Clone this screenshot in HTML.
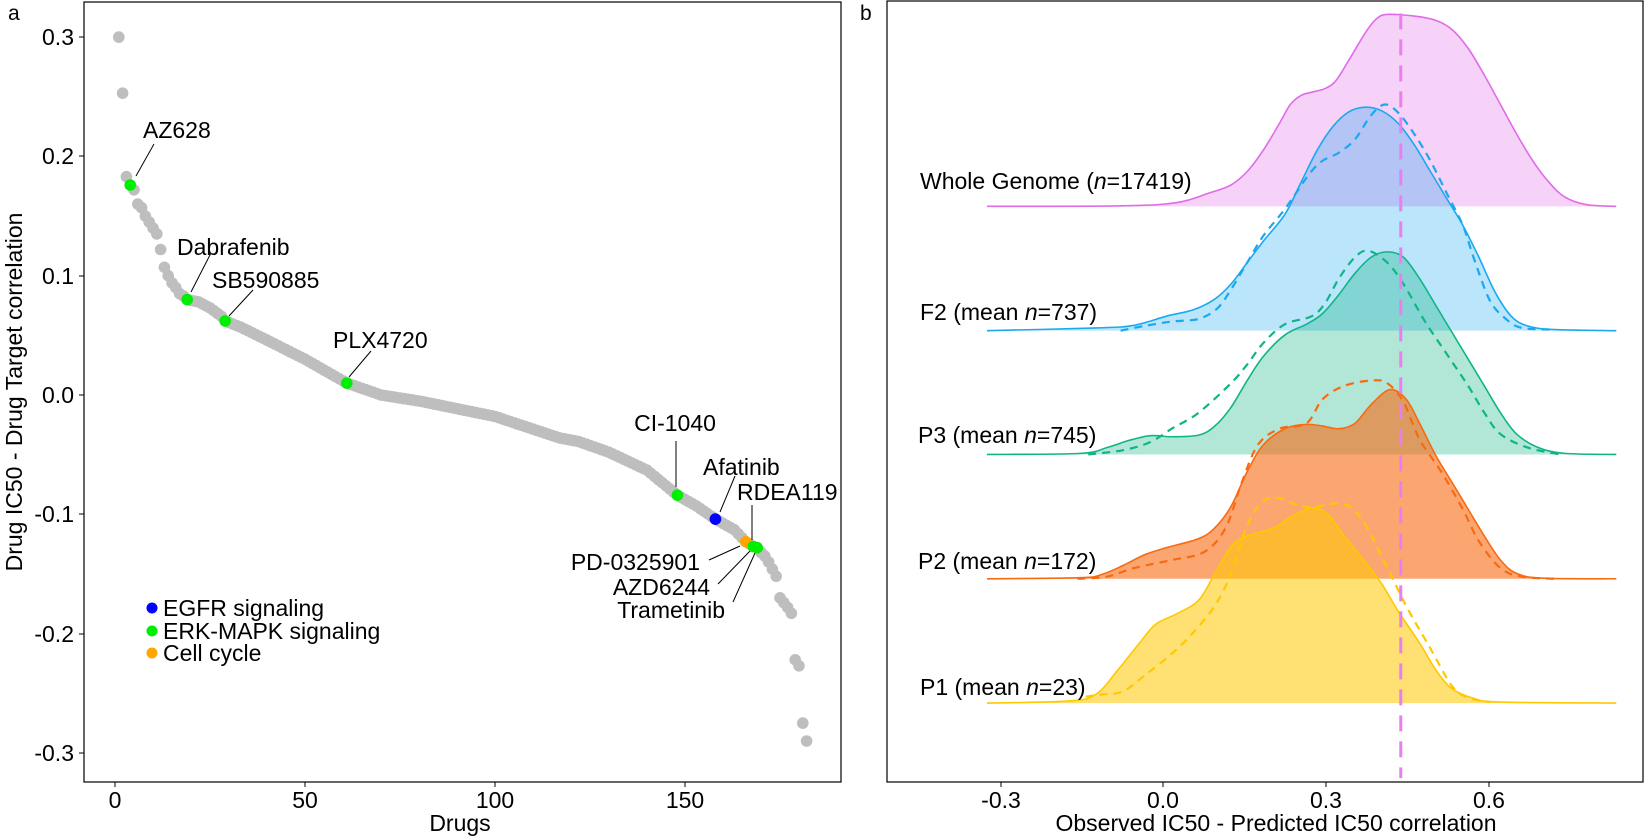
<!DOCTYPE html>
<html><head><meta charset="utf-8"><style>
html,body{margin:0;padding:0;background:#fff;}
svg{display:block;font-family:"Liberation Sans",Arial,sans-serif;}
</style></head><body>
<svg id="s" width="1645" height="836" viewBox="0 0 1645 836" xmlns="http://www.w3.org/2000/svg">
<rect width="1645" height="836" fill="#fff"/>
<!-- Panel a -->
<text x="8" y="20" font-size="21">a</text>
<g id="pts"></g>
<rect x="84" y="2" width="757" height="780" fill="none" stroke="#000" stroke-width="1.2"/>
<g font-size="23" text-anchor="end" fill="#000">
<text x="74" y="45">0.3</text><text x="74" y="164">0.2</text><text x="74" y="284">0.1</text>
<text x="74" y="403">0.0</text><text x="74" y="522">-0.1</text><text x="74" y="642">-0.2</text><text x="74" y="761">-0.3</text>
</g>
<g stroke="#000" stroke-width="1">
<line x1="79" y1="37" x2="84" y2="37"/><line x1="79" y1="156" x2="84" y2="156"/><line x1="79" y1="276" x2="84" y2="276"/>
<line x1="79" y1="395" x2="84" y2="395"/><line x1="79" y1="514" x2="84" y2="514"/><line x1="79" y1="634" x2="84" y2="634"/><line x1="79" y1="753" x2="84" y2="753"/>
<line x1="115" y1="782" x2="115" y2="787"/><line x1="305" y1="782" x2="305" y2="787"/><line x1="495" y1="782" x2="495" y2="787"/><line x1="685" y1="782" x2="685" y2="787"/>
</g>
<g font-size="23" text-anchor="middle">
<text x="115" y="808">0</text><text x="305" y="808">50</text><text x="495" y="808">100</text><text x="685" y="808">150</text>
<text x="460" y="831">Drugs</text>
</g>
<text transform="translate(22,392) rotate(-90)" font-size="23" text-anchor="middle">Drug IC50 - Drug Target correlation</text>
<g stroke="#000" stroke-width="1">
<line x1="154" y1="144" x2="136" y2="176"/>
<line x1="211" y1="253" x2="191" y2="292"/>
<line x1="253" y1="290" x2="229" y2="316"/>
<line x1="371" y1="351" x2="349" y2="377"/>
<line x1="676" y1="441" x2="676" y2="487"/>
<line x1="735" y1="476" x2="720" y2="512"/>
<line x1="752" y1="505" x2="752" y2="540"/>
<line x1="709" y1="560" x2="740" y2="546"/>
<line x1="718" y1="584" x2="750" y2="551"/>
<line x1="733" y1="602" x2="755" y2="553"/>
</g>
<g font-size="23">
<text x="143" y="138">AZ628</text>
<text x="177" y="255">Dabrafenib</text>
<text x="212" y="288">SB590885</text>
<text x="333" y="348">PLX4720</text>
<text x="675" y="431" text-anchor="middle">CI-1040</text>
<text x="703" y="475">Afatinib</text>
<text x="737" y="500">RDEA119</text>
<text x="700" y="570" text-anchor="end">PD-0325901</text>
<text x="710" y="595" text-anchor="end">AZD6244</text>
<text x="725" y="618" text-anchor="end">Trametinib</text>
</g>
<circle cx="152" cy="608" r="5.5" fill="#0000ff"/><circle cx="152" cy="631" r="5.5" fill="#00ee00"/><circle cx="152" cy="653" r="5.5" fill="#ffa500"/>
<g font-size="23"><text x="163" y="616">EGFR signaling</text><text x="163" y="639">ERK-MAPK signaling</text><text x="163" y="661">Cell cycle</text></g>

<!-- Panel b -->
<text x="860" y="20" font-size="21">b</text>
<g id="ridges" transform="translate(800,0) scale(0.5388,0.5359)"></g>
<rect x="887" y="1" width="756" height="781" fill="none" stroke="#000" stroke-width="1.2"/>
<g stroke="#000" stroke-width="1">
<line x1="1001" y1="782" x2="1001" y2="787"/><line x1="1163" y1="782" x2="1163" y2="787"/><line x1="1326" y1="782" x2="1326" y2="787"/><line x1="1489" y1="782" x2="1489" y2="787"/>
</g>
<g font-size="23" text-anchor="middle">
<text x="1001" y="808">-0.3</text><text x="1163" y="808">0.0</text><text x="1326" y="808">0.3</text><text x="1489" y="808">0.6</text>
<text x="1276" y="831">Observed IC50 - Predicted IC50 correlation</text>
</g>
<g font-size="23">
<text x="920" y="189">Whole Genome (<tspan font-style="italic">n</tspan>=17419)</text>
<text x="920" y="320">F2 (mean <tspan font-style="italic">n</tspan>=737)</text>
<text x="918" y="443">P3 (mean <tspan font-style="italic">n</tspan>=745)</text>
<text x="918" y="569">P2 (mean <tspan font-style="italic">n</tspan>=172)</text>
<text x="920" y="695">P1 (mean <tspan font-style="italic">n</tspan>=23)</text>
</g>
</svg>
<script>
var anchors=[[1,0.300],[2,0.253],[3,0.183],[4,0.176],[5,0.172],[6,0.160],[7,0.157],[8,0.150],[9,0.145],[10,0.140],[11,0.135],[12,0.122],[13,0.107],[14,0.100],[15,0.094],[16,0.090],[17,0.085],[18,0.083],[19,0.080],[22,0.078],[25,0.073],[28,0.066],[29,0.062],[33,0.057],[40,0.046],[50,0.030],[61,0.010],[70,0.000],[80,-0.005],[100,-0.018],[117,-0.036],[122,-0.039],[130,-0.048],[140,-0.063],[148,-0.084],[153,-0.093],[158,-0.104],[163,-0.113],[166,-0.123],[168,-0.127],[169,-0.128],[170,-0.132],[171,-0.135],[172,-0.140],[173,-0.146],[174,-0.152],[175,-0.170],[176,-0.174],[177,-0.178],[178,-0.183],[179,-0.222],[180,-0.227],[181,-0.275],[182,-0.290]];
function val(i){for(var k=0;k<anchors.length-1;k++){var a=anchors[k],b=anchors[k+1];if(i>=a[0]&&i<=b[0]){return a[1]+(b[1]-a[1])*(i-a[0])/(b[0]-a[0]);}}return 0;}
var g=document.getElementById("pts");
function X(i){return 115+3.8*i;} function Y(v){return 395-1193*v;}
var special={4:"#00ee00",19:"#00ee00",29:"#00ee00",61:"#00ee00",148:"#00ee00",158:"#0000ff",166:"#ffa500",168:"#00ee00",169:"#00ee00"};
var html="";
for(var i=1;i<=182;i++){ if(!special[i]) html+='<circle cx="'+X(i).toFixed(1)+'" cy="'+Y(val(i)).toFixed(1)+'" r="5.8" fill="#bebebe"/>'; }
for(var k in special){ html+='<circle cx="'+X(+k).toFixed(1)+'" cy="'+Y(val(+k)).toFixed(1)+'" r="5.8" fill="'+special[k]+'"/>'; }
g.innerHTML=html;
function path(p){var d="M"+p[0][0]+","+p[0][1];for(var i=0;i<p.length-1;i++){var p0=p[Math.max(0,i-1)],p1=p[i],p2=p[i+1],p3=p[Math.min(p.length-1,i+2)];
var c1x=p1[0]+(p2[0]-p0[0])/6,c1y=p1[1]+(p2[1]-p0[1])/6,c2x=p2[0]-(p3[0]-p1[0])/6,c2y=p2[1]-(p3[1]-p1[1])/6;
d+=" C"+c1x.toFixed(1)+","+c1y.toFixed(1)+" "+c2x.toFixed(1)+","+c2y.toFixed(1)+" "+p2[0]+","+p2[1];}return d;}
var R=[
{c:"#e06be8",a:0.3,s:[[347,385],[600,384],[700,378],[760,360],[800,345],[830,320],[860,280],[890,230],[910,195],[930,178],[950,172],[975,165],[995,150],[1020,110],[1050,60],[1070,35],[1090,27],[1140,30],[1180,38],[1210,55],[1240,90],[1270,140],[1300,195],[1330,250],[1360,300],[1390,340],[1420,368],[1460,382],[1515,385]]},
{c:"#1aa9f0",a:0.3,s:[[347,617],[550,612],[620,607],[680,590],[730,578],[770,558],[800,530],[830,490],[860,450],[900,400],[930,340],[960,280],[990,235],[1020,208],[1050,200],[1080,207],[1110,230],[1140,270],[1170,320],[1200,370],[1230,420],[1260,480],[1290,545],[1320,590],[1350,608],[1400,615],[1515,617]],
 d:[[595,617],[640,608],[690,600],[740,595],[775,575],[800,540],[830,490],[860,440],[900,390],[945,325],[970,300],[1000,285],[1030,260],[1060,215],[1085,195],[1110,210],[1140,250],[1170,300],[1200,360],[1230,420],[1250,480],[1280,560],[1310,595],[1340,612],[1400,615]]},
{c:"#10b585",a:0.32,s:[[347,848],[520,846],[570,835],[610,822],[650,813],[690,815],[740,812],[770,795],[800,760],[830,710],[860,665],[900,625],[940,605],[970,585],[1000,550],[1030,510],[1060,480],[1090,470],[1120,480],[1150,520],[1180,570],[1210,620],[1240,670],[1270,720],[1300,770],[1330,810],[1370,835],[1420,846],[1515,848]],
 d:[[535,848],[600,840],[650,825],[690,800],[740,770],[800,715],[830,680],[860,640],[900,605],[950,590],[975,565],[1000,520],[1030,480],[1055,468],[1090,490],[1120,530],[1160,600],[1200,660],[1240,720],[1270,770],[1300,810],[1350,835],[1410,848]]},
{c:"#f86a12",a:0.6,s:[[347,1080],[520,1078],[560,1072],[600,1055],[640,1035],[680,1022],[740,1005],[770,985],[800,945],[830,880],[860,830],[900,800],[940,792],[970,795],[1000,800],[1030,790],[1060,755],[1095,727],[1125,745],[1150,790],[1180,850],[1210,900],[1240,950],[1270,1000],[1300,1045],[1330,1070],[1380,1079],[1515,1080]],
 d:[[515,1080],[570,1076],[620,1060],[690,1045],[750,1030],[790,985],[820,900],[850,830],[890,800],[940,790],[970,745],[1010,720],[1060,710],[1090,715],[1120,750],[1150,820],[1190,880],[1230,950],[1260,1010],[1300,1060],[1340,1076],[1400,1080]]},
{c:"#ffc800",a:0.55,s:[[347,1312],[500,1308],[550,1295],[590,1250],[630,1200],[660,1165],[700,1145],[740,1120],[770,1070],[800,1020],[830,1000],[880,985],[910,965],[950,948],[980,960],[1010,1000],[1050,1050],[1080,1090],[1110,1140],[1150,1200],[1180,1250],[1210,1285],[1250,1303],[1300,1310],[1515,1312]],
 d:[[530,1300],[560,1296],[600,1290],[640,1260],[690,1220],[730,1180],[770,1130],[800,1070],[830,980],[860,935],[890,930],[930,945],[960,945],[990,940],[1020,945],[1050,980],[1080,1040],[1100,1080],[1130,1140],[1170,1210],[1210,1280],[1240,1302],[1280,1310]]}
];
var rh="";
R.forEach(function(r){var d=path(r.s);
 rh+='<path d="'+d+' Z" fill="'+r.c+'" fill-opacity="'+r.a+'" stroke="none"/>';
 rh+='<path d="'+d+'" fill="none" stroke="'+r.c+'" stroke-width="1.6" vector-effect="non-scaling-stroke"/>';
 if(r.d) rh+='<path d="'+path(r.d)+'" fill="none" stroke="'+r.c+'" stroke-width="2.2" stroke-dasharray="8,6" vector-effect="non-scaling-stroke"/>';
});
rh+='<line x1="1115" y1="25" x2="1115" y2="1452" stroke="#ea7ef0" stroke-width="3" stroke-dasharray="16,10" vector-effect="non-scaling-stroke"/>';
document.getElementById("ridges").innerHTML=rh;
</script>
</body></html>
